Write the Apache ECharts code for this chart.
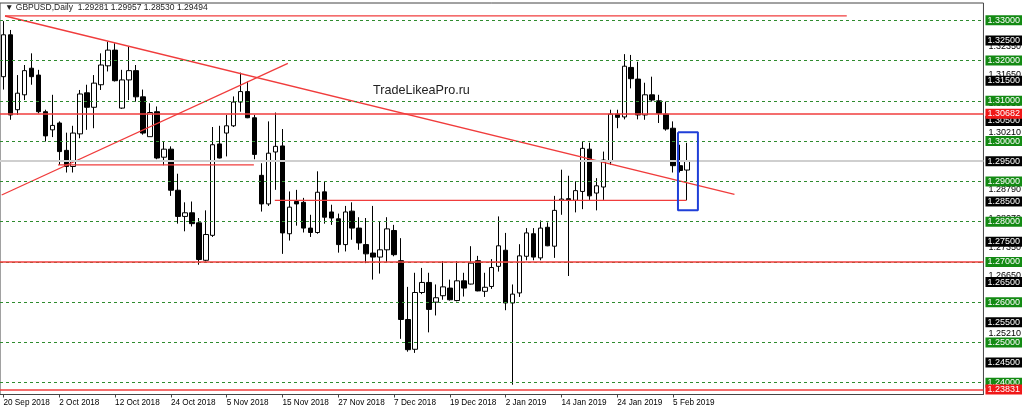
<!DOCTYPE html>
<html>
<head>
<meta charset="utf-8">
<script src="https://cdn.jsdelivr.net/npm/echarts@6/dist/echarts.min.js"></script>
<style>
html,body{margin:0;padding:0;background:#fff;}
#c{width:1024px;height:413px;}
</style>
</head>
<body>
<div id="c"></div>
<script>
// ---- data ----
var dates = [
'20 Sep 2018','21 Sep 2018','24 Sep 2018','25 Sep 2018','26 Sep 2018','27 Sep 2018','28 Sep 2018',
'1 Oct 2018','2 Oct 2018','3 Oct 2018','4 Oct 2018','5 Oct 2018','8 Oct 2018','9 Oct 2018','10 Oct 2018','11 Oct 2018','12 Oct 2018',
'15 Oct 2018','16 Oct 2018','17 Oct 2018','18 Oct 2018','19 Oct 2018','22 Oct 2018','23 Oct 2018','24 Oct 2018','25 Oct 2018','26 Oct 2018',
'29 Oct 2018','30 Oct 2018','31 Oct 2018',
'1 Nov 2018','2 Nov 2018','5 Nov 2018','6 Nov 2018','7 Nov 2018','8 Nov 2018','9 Nov 2018','12 Nov 2018','13 Nov 2018','14 Nov 2018',
'15 Nov 2018','16 Nov 2018','19 Nov 2018','20 Nov 2018','21 Nov 2018','22 Nov 2018','23 Nov 2018','26 Nov 2018','27 Nov 2018','28 Nov 2018',
'29 Nov 2018','30 Nov 2018',
'3 Dec 2018','4 Dec 2018','5 Dec 2018','6 Dec 2018','7 Dec 2018','10 Dec 2018','11 Dec 2018','12 Dec 2018','13 Dec 2018','14 Dec 2018',
'17 Dec 2018','18 Dec 2018','19 Dec 2018','20 Dec 2018','21 Dec 2018','24 Dec 2018','26 Dec 2018','27 Dec 2018','28 Dec 2018','31 Dec 2018',
'2 Jan 2019','3 Jan 2019','4 Jan 2019','7 Jan 2019','8 Jan 2019','9 Jan 2019','10 Jan 2019','11 Jan 2019','14 Jan 2019','15 Jan 2019',
'16 Jan 2019','17 Jan 2019','18 Jan 2019','21 Jan 2019','22 Jan 2019','23 Jan 2019','24 Jan 2019','25 Jan 2019','28 Jan 2019','29 Jan 2019',
'30 Jan 2019','31 Jan 2019',
'1 Feb 2019','4 Feb 2019','5 Feb 2019','6 Feb 2019','7 Feb 2019'
];
var openP = [
1.3160,1.3264,1.3078,1.3115,1.3181,1.3164,1.3073,1.3028,1.3045,1.2977,
1.2937,1.3018,1.3120,1.3084,1.3140,1.3187,1.3226,1.3082,1.3152,1.3175,
1.3110,1.3011,1.3073,1.2960,1.2980,1.2878,1.2813,1.2822,1.2797,1.2704,
1.2766,1.2993,1.3020,1.3038,1.3097,1.3123,1.3058,1.2915,1.2844,1.2973,
1.2988,1.2770,1.2850,1.2848,1.2784,1.2773,1.2874,1.2824,1.2807,1.2743,
1.2826,1.2784,1.2743,1.2722,1.2712,1.2730,1.2778,1.2703,1.2557,1.2483,
1.2624,1.2649,1.2600,1.2616,1.2635,1.2604,1.2653,1.2645,1.2703,1.2627,
1.2639,1.2689,1.2729,1.2598,1.2623,1.2714,1.2770,1.2710,1.2786,1.2739,
1.2853,1.2857,1.2853,1.2875,1.2980,1.2871,1.2886,1.2949,1.3067,1.3060,
1.3183,1.3154,1.3065,1.3115,1.3100,1.3067,1.3032,1.2939,1.29281
];
var highP = [
1.3298,1.3276,1.3164,1.3189,1.3218,1.3177,1.3078,1.3115,1.3049,1.3021,
1.3038,1.3127,1.3140,1.3164,1.3218,1.3247,1.3243,1.3177,1.3235,1.3189,
1.3128,1.3094,1.3086,1.3000,1.2987,1.2919,1.2848,1.2850,1.2809,1.2828,
1.3035,1.3038,1.3065,1.3111,1.3170,1.3148,1.3065,1.2945,1.3049,1.3071,
1.3030,1.2875,1.2879,1.2859,1.2817,1.2925,1.2900,1.2842,1.2820,1.2839,
1.2848,1.2811,1.2809,1.2839,1.2800,1.2811,1.2792,1.2759,1.2638,1.2673,
1.2685,1.2673,1.2644,1.2702,1.2656,1.2702,1.2673,1.2739,1.2715,1.2673,
1.2707,1.2813,1.2772,1.2644,1.2744,1.2784,1.2784,1.2803,1.2798,1.2864,
1.2929,1.2914,1.2900,1.2999,1.2996,1.2908,1.2974,1.3078,1.3078,1.3216,
1.3214,1.3197,1.3145,1.3160,1.3115,1.3098,1.3049,1.2991,1.29957
];
var lowP = [
1.3128,1.3053,1.3065,1.3102,1.3140,1.3069,1.2999,1.3010,1.2941,1.2922,
1.2922,1.3007,1.3028,1.3032,1.3127,1.3173,1.3148,1.3080,1.3102,1.3098,
1.3016,1.3011,1.2955,1.2940,1.2864,1.2795,1.2776,1.2788,1.2693,1.2701,
1.2762,1.2957,1.2962,1.3035,1.3073,1.3057,1.2955,1.2825,1.2839,1.2879,
1.2720,1.2753,1.2790,1.2773,1.2762,1.2770,1.2795,1.2792,1.2723,1.2726,
1.2755,1.2730,1.2697,1.2656,1.2671,1.2699,1.2714,1.2509,1.2477,1.2474,
1.2620,1.2525,1.2567,1.2606,1.2604,1.2602,1.2614,1.2644,1.2627,1.2613,
1.2633,1.2676,1.2580,1.2395,1.2613,1.2704,1.2704,1.2704,1.2739,1.2710,
1.2817,1.2665,1.2823,1.2831,1.2854,1.2828,1.2854,1.2941,1.3032,1.3054,
1.3131,1.3054,1.3053,1.3098,1.3045,1.3026,1.2922,1.2922,1.28530
];
var closeP = [
1.3264,1.3065,1.3119,1.3175,1.3160,1.3073,1.3013,1.3039,1.2974,1.2937,
1.3020,1.3117,1.3084,1.3144,1.3189,1.3226,1.3150,1.3152,1.3175,1.3110,
1.3020,1.3071,1.2958,1.2980,1.2878,1.2813,1.2822,1.2795,1.2706,1.2768,
1.2991,1.2958,1.3038,1.3097,1.3123,1.3058,1.2967,1.2844,1.2970,1.2987,
1.2772,1.2836,1.2844,1.2784,1.2773,1.2873,1.2811,1.2809,1.2743,1.2824,
1.2784,1.2747,1.2720,1.2712,1.2730,1.2782,1.2718,1.2557,1.2482,1.2624,
1.2649,1.2582,1.2611,1.2638,1.2606,1.2653,1.2635,1.2697,1.2628,1.2637,
1.2686,1.2740,1.2598,1.2620,1.2715,1.2772,1.2712,1.2784,1.2740,1.2828,
1.2856,1.2853,1.2877,1.2982,1.2864,1.2889,1.2953,1.3067,1.3059,1.3186,
1.3155,1.3065,1.3115,1.3102,1.3069,1.3030,1.2939,1.2927,1.29494
];
// price-scale tags on the right
var greenLevels = [1.33,1.32,1.31,1.30,1.29,1.28,1.27,1.26,1.25,1.24];
var blackLevels = [1.325,1.315,1.305,1.295,1.285,1.275,1.265,1.255,1.245];
var redLevels = [1.30682,1.23831];
var axisTickLabels = [1.3235,1.3165,1.3093,1.3021,1.2950,1.2879,1.2807,1.2735,1.2665,1.2593,1.2521];
var bidLevel = 1.295;
var redFullLines = [1.2701,1.30682,1.23831];
// drawn objects: [index, price] pairs
var trendDown = [[0.22,1.33107],[104.8,1.28679]];
var trendUp = [[-0.26,1.28662],[40.77,1.31932]];
var topSegment = [[0.22,1.3311],[120.9,1.3311]];
var midSegment = [[7.81,1.2941],[35.9,1.2941]];
var lowSegment = [[38.9,1.2853],[97.9,1.2853]];
var boxCorners = [[96.7,1.30219],[99.56,1.30219],[99.56,1.28282],[96.7,1.28282],[96.7,1.30219]];
var header = '\u25BC GBPUSD,Daily  1.29281 1.29957 1.28530 1.29494';
var watermark = 'TradeLikeaPro.ru';

// ---- build ----
var TOTAL = 141;
var cats = dates.slice();
while (cats.length < TOTAL) cats.push('');
var candles = dates.map(function(d,i){ return [openP[i], closeP[i], lowP[i], highP[i]]; });

var FONT = 'Liberation Sans, Arial, sans-serif';
function tag(v, bg, lineStyle){
  return {
    yAxis: v,
    lineStyle: lineStyle,
    label: {
      show: true, position: 'end', distance: 2,
      formatter: v.toFixed(5),
      color: '#fff', backgroundColor: bg,
      fontFamily: FONT, fontSize: 9, lineHeight: 10,
      padding: [0, 2, 0, 2]
    }
  };
}
var gridMarks = [];
greenLevels.forEach(function(v){
  gridMarks.push(tag(v, '#138a13', {color:'#2e8b2e', type:[3,3], width:1}));
});
blackLevels.forEach(function(v){
  var ls = (v === bidLevel) ? {color:'#cfcfcf', type:'solid', width:2} : {color:'rgba(255,255,255,0)', type:'solid', width:1};
  gridMarks.push(tag(v, '#000', ls));
});
var redMarks = [];
redFullLines.forEach(function(v){
  var m = {yAxis: v, lineStyle:{color:'#f03c3c', type:'solid', width:1.5}, label:{show:false}};
  if (redLevels.indexOf(v) >= 0) m = tag(v, '#f01818', {color:'#f03c3c', type:'solid', width:1.5});
  redMarks.push(m);
});

function seg(data, color, width, z){
  return {
    type:'line', xAxisIndex:1, yAxisIndex:0, data:data, showSymbol:false, symbol:'none',
    silent:true, animation:false, z:z||4,
    lineStyle:{color:color||'#f03c3c', width:width||1.3}
  };
}

var chart = echarts.init(document.getElementById('c'), null, {renderer:'canvas'});
chart.setOption({
  animation:false,
  backgroundColor:'#ffffff',
  grid:{left:0, right:40, top:3, bottom:18.5, show:true, borderColor:'#444', borderWidth:1, backgroundColor:'transparent'},
  xAxis:[{
    type:'category', data:cats, boundaryGap:true,
    axisLine:{show:true, lineStyle:{color:'#444'}},
    axisTick:{show:true, alignWithLabel:true, length:3, lineStyle:{color:'#444'},
      interval:function(i){ return i % 8 === 0 && i < dates.length; }},
    axisLabel:{show:true, align:'left', margin:4, color:'#000', fontFamily:FONT, fontSize:8.2,
      interval:function(i){ return i % 8 === 0 && i < dates.length; }},
    splitLine:{show:false}
  },{
    type:'value', min:-0.5, max:TOTAL-0.5, show:false
  }],
  yAxis:[{
    type:'value', position:'right', min:1.23707, max:1.3343, scale:true,
    axisLine:{show:false},
    axisTick:{show:false},
    axisLabel:{show:true, customValues:axisTickLabels, margin:5, color:'#000', fontFamily:FONT, fontSize:9,
      formatter:function(v){ return v.toFixed(5); }},
    splitLine:{show:false}
  }],
  graphic:[
    {type:'text', left:5, top:3, z:100, style:{text:header, fill:'#222', font:'8.5px Liberation Sans, Arial, sans-serif'}},
    {type:'text', left:373, top:84, z:100, style:{text:watermark, fill:'#222', font:'12.6px Liberation Sans, Arial, sans-serif'}}
  ],
  series:[
    {type:'line', data:[], z:1, silent:true,
      markLine:{symbol:['none','none'], precision:5, silent:true, animation:false, data:gridMarks}},
    {type:'candlestick', data:candles, barWidth:5, z:2, silent:true,
      itemStyle:{color:'#ffffff', color0:'#000000', borderColor:'#000000', borderColor0:'#000000', borderWidth:1}},
    {type:'line', data:[], z:3, silent:true,
      markLine:{symbol:['none','none'], precision:5, silent:true, animation:false, data:redMarks}},
    seg(trendDown),
    seg(trendUp),
    seg(topSegment),
    seg(midSegment),
    seg(lowSegment),
    seg(boxCorners, '#1f3fd8', 2, 5)
  ]
});
</script>
</body>
</html>
